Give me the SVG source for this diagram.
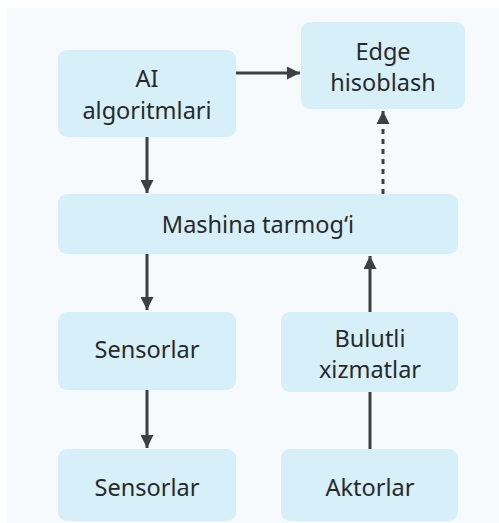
<svg xmlns="http://www.w3.org/2000/svg" width="499" height="523" viewBox="0 0 499 523">
<style>
.box{fill:#d7eff9}
.t{font-family:"Noto Sans","Open Sans",sans-serif;font-size:23.5px;fill:#262a2e;text-anchor:middle}
.ln{stroke:#3d4043;stroke-width:3;fill:none}
.dot{stroke:#3d4043;stroke-width:3;fill:none;stroke-dasharray:5 5}
</style>
<defs>
<marker id="ah2" viewBox="0 0 10 10" refX="10" refY="5" markerWidth="13" markerHeight="13" markerUnits="userSpaceOnUse" orient="auto">
<path d="M0,0 L10,5 L0,10 Z" fill="#3d4043"/>
</marker>
</defs>
<rect x="0" y="0" width="499" height="523" fill="#ffffff"/>
<rect x="7" y="8" width="492" height="515" fill="#f6fafd"/>
<g id="connectors">
<line class="ln" x1="236" y1="73" x2="300" y2="73" marker-end="url(#ah2)"/>
<line class="ln" x1="147" y1="137" x2="147" y2="193" marker-end="url(#ah2)"/>
<line class="dot" x1="383" y1="194" x2="383" y2="111" marker-end="url(#ah2)"/>
<line class="ln" x1="147" y1="254" x2="147" y2="310" marker-end="url(#ah2)"/>
<line class="ln" x1="370" y1="312" x2="370" y2="256" marker-end="url(#ah2)"/>
<line class="ln" x1="147" y1="390" x2="147" y2="448" marker-end="url(#ah2)"/>
<line class="ln" x1="370" y1="449" x2="370" y2="392"/>
</g>
<g id="ai">
<rect class="box" x="58" y="50" width="178" height="87" rx="9"/>
<text class="t" x="147" y="87">AI</text>
<text class="t" x="147" y="119">algoritmlari</text>
</g>
<g id="edge">
<rect class="box" x="301" y="22" width="164" height="87" rx="9"/>
<text class="t" x="383" y="60">Edge</text>
<text class="t" x="383" y="91">hisoblash</text>
</g>
<g id="mashina">
<rect class="box" x="58" y="194" width="400" height="60" rx="9"/>
<text class="t" x="258" y="233">Mashina tarmog‘i</text>
</g>
<g id="sensorlar1">
<rect class="box" x="58" y="312" width="178" height="78" rx="9"/>
<text class="t" x="147" y="358">Sensorlar</text>
</g>
<g id="bulutli">
<rect class="box" x="281" y="312" width="177" height="80" rx="9"/>
<text class="t" x="370" y="347">Bulutli</text>
<text class="t" x="370" y="378">xizmatlar</text>
</g>
<g id="sensorlar2">
<rect class="box" x="58" y="449" width="178" height="72" rx="9"/>
<text class="t" x="147" y="496">Sensorlar</text>
</g>
<g id="aktorlar">
<rect class="box" x="281" y="449" width="177" height="72" rx="9"/>
<text class="t" x="370" y="496">Aktorlar</text>
</g>
</svg>
